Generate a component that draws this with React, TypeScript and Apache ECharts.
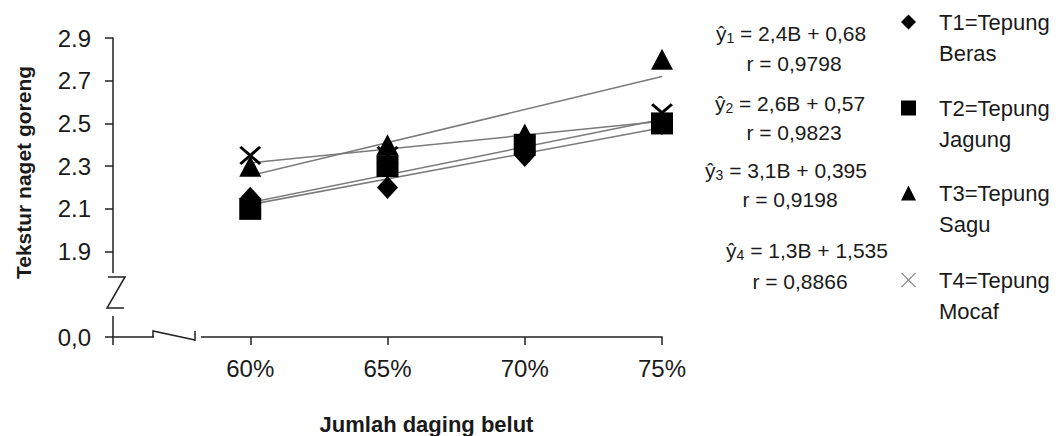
import React, { useEffect, useRef } from 'react';
import * as echarts from 'echarts';

// ---- data ----
const categories = ['60%', '65%', '70%', '75%'];
const xValues = [60, 65, 70, 75];
const seriesNames = ['T1=Tepung Beras', 'T2=Tepung Jagung', 'T3=Tepung Sagu', 'T4=Tepung Mocaf'];
const t1Beras = [2.15, 2.2, 2.35, 2.5];
const t2Jagung = [2.1, 2.3, 2.4, 2.5];
const t3Sagu = [2.3, 2.4, 2.45, 2.8];
const t4Mocaf = [2.35, 2.35, 2.4, 2.55];
const slopes = [2.4, 2.6, 3.1, 1.3];
const intercepts = [0.68, 0.57, 0.395, 1.535];
const rValues = [0.9798, 0.9823, 0.9198, 0.8866];
const yTickLabels = ['0,0', '', '1.9', '2.1', '2.3', '2.5', '2.7', '2.9'];

const FONT = '"Liberation Sans", Arial, sans-serif';
const TEXT = '#1a1a1a';
const AXIS = '#222';

const X_PATH_THICK = 'path://M0,2L2,0L10,8L18,0L20,2L12,10L20,18L18,20L10,12L2,20L0,18L8,10Z';
const X_PATH_THIN = 'path://M0,1L1,0L10,9L19,0L20,1L11,10L20,19L19,20L10,11L1,20L0,19L9,10Z';

const fmt = (v: number) => String(v).replace('.', ',');

export default function App() {
  const ref = useRef<HTMLDivElement>(null);
  useEffect(() => {
    if (!ref.current) return;
    const chart = echarts.init(ref.current, null, { renderer: 'svg' });
    const allValues = [t1Beras, t2Jagung, t3Sagu, t4Mocaf];
    const symbols = ['diamond', 'rect', 'triangle', X_PATH_THICK];
    const symbolSizes: any[] = [[21, 23], [22, 22], [22, 21], [22, 19]];
    const legendIcons = ['diamond', 'rect', 'triangle', X_PATH_THIN];
    const legendColors = ['#000', '#000', '#000', '#808080'];
    const legendCenters = [22, 108, 193, 280];

    const trendSeries = slopes.map((a, i) => ({
      type: 'line',
      name: 'trend' + (i + 1),
      data: [xValues[0], xValues[xValues.length - 1]].map((x) => [x, a * (x / 100) + intercepts[i]]),
      showSymbol: false,
      symbol: 'none',
      silent: true,
      z: 1,
      lineStyle: { color: '#7a7a7a', width: 1.5 },
    }));
    const pointSeries = allValues.map((vals, i) => ({
      type: 'scatter',
      name: seriesNames[i],
      data: vals.map((v, j) => [xValues[j], v]),
      symbol: symbols[i],
      symbolSize: symbolSizes[i],
      z: 3 + i,
      itemStyle: { color: '#000', opacity: 1 },
    }));

    const legends = seriesNames.map((name, i) => ({
      data: [{ name, icon: legendIcons[i], itemStyle: { color: legendColors[i] } }],
      left: 901,
      top: legendCenters[i] - 46.5,
      orient: 'vertical',
      padding: 0,
      itemWidth: 15,
      itemHeight: 15,
      selectedMode: false,
      formatter: (n: string) => '\n' + n.replace(' ', '\n'),
      textStyle: { fontSize: 22, lineHeight: 31, fontFamily: FONT, color: TEXT, padding: [0, 0, 0, 18] },
    }));

    const eqCenters = [791, 790, 786, 807];
    const eqY = [33, 103, 170, 250];
    const rCenters = [794, 794, 790, 800];
    const rY = [63, 132, 199, 281];
    const eqGraphics: any[] = [];
    slopes.forEach((a, i) => {
      eqGraphics.push({
        type: 'text',
        x: eqCenters[i],
        y: eqY[i],
        style: {
          text: `{a|ŷ}{s|${i + 1}}{a| = ${fmt(a)}B + ${fmt(intercepts[i])}}`,
          align: 'center',
          verticalAlign: 'middle',
          rich: {
            a: { fontSize: 21, fontFamily: FONT, fill: TEXT, lineHeight: 24 },
            s: { fontSize: 14, fontFamily: FONT, fill: TEXT, lineHeight: 24, padding: [10, 0, 0, 0] },
          },
        },
      });
      eqGraphics.push({
        type: 'text',
        x: rCenters[i],
        y: rY[i],
        style: {
          text: `r = ${fmt(rValues[i])}`,
          align: 'center',
          verticalAlign: 'middle',
          fontSize: 21,
          fontFamily: FONT,
          fill: TEXT,
        },
      });
    });

    const breakGraphics = [
      { type: 'rect', shape: { x: 100, y: 273, width: 20, height: 43 }, style: { fill: '#fff' }, z: 50 },
      { type: 'polyline', shape: { points: [[108, 277], [125, 277], [107, 308], [124, 308]] }, style: { stroke: AXIS, lineWidth: 1.5, fill: null }, z: 51 },
      { type: 'rect', shape: { x: 154, y: 332, width: 47, height: 8 }, style: { fill: '#fff' }, z: 50 },
      { type: 'polyline', shape: { points: [[153, 337], [153, 331], [195, 340]] }, style: { stroke: AXIS, lineWidth: 1.5, fill: null }, z: 51 },
      { type: 'line', shape: { x1: 195, y1: 331, x2: 195, y2: 341 }, style: { stroke: AXIS, lineWidth: 1.5 }, z: 51 },
    ];

    chart.setOption({
      animation: false,
      backgroundColor: '#fff',
      grid: { left: 113, top: 38, right: 399, bottom: 99, containLabel: false, outerBoundsMode: 'none' },
      legend: legends,
      xAxis: {
        type: 'value',
        min: 55,
        max: 75,
        interval: 5,
        name: 'Jumlah daging belut',
        nameLocation: 'middle',
        nameGap: 76,
        nameTextStyle: { fontSize: 22, fontWeight: 'bold', fontFamily: FONT, color: TEXT, padding: [0, 0, 0, 78] },
        axisLine: { lineStyle: { color: AXIS, width: 1.5 } },
        axisTick: { length: 8, lineStyle: { color: AXIS, width: 1.5 } },
        splitLine: { show: false },
        axisLabel: {
          fontSize: 24,
          fontFamily: FONT,
          color: TEXT,
          margin: 19,
          formatter: (v: number) => {
            const idx = xValues.indexOf(Math.round(v));
            return idx >= 0 ? categories[idx] : '';
          },
        },
      },
      yAxis: {
        type: 'value',
        min: 1.5,
        max: 2.9,
        interval: 0.2,
        name: 'Tekstur naget goreng',
        nameLocation: 'middle',
        nameGap: 79,
        nameTextStyle: { fontSize: 21, fontWeight: 'bold', fontFamily: FONT, color: TEXT, padding: [0, 0, 0, 30] },
        axisLine: { show: true, lineStyle: { color: AXIS, width: 1.5 } },
        axisTick: { show: true, length: 8, lineStyle: { color: AXIS, width: 1.5 } },
        splitLine: { show: false },
        axisLabel: {
          fontSize: 24,
          fontFamily: FONT,
          color: TEXT,
          margin: 22,
          formatter: (v: number) => {
            const idx = Math.round((v - 1.5) / 0.2);
            return yTickLabels[idx] ?? '';
          },
        },
      },
      series: [...trendSeries, ...pointSeries],
      graphic: [...breakGraphics, ...eqGraphics],
    });
    return () => chart.dispose();
  }, []);
  return <div ref={ref} style={{ position: 'fixed', left: 0, top: 0, width: 1061, height: 436 }} />;
}
